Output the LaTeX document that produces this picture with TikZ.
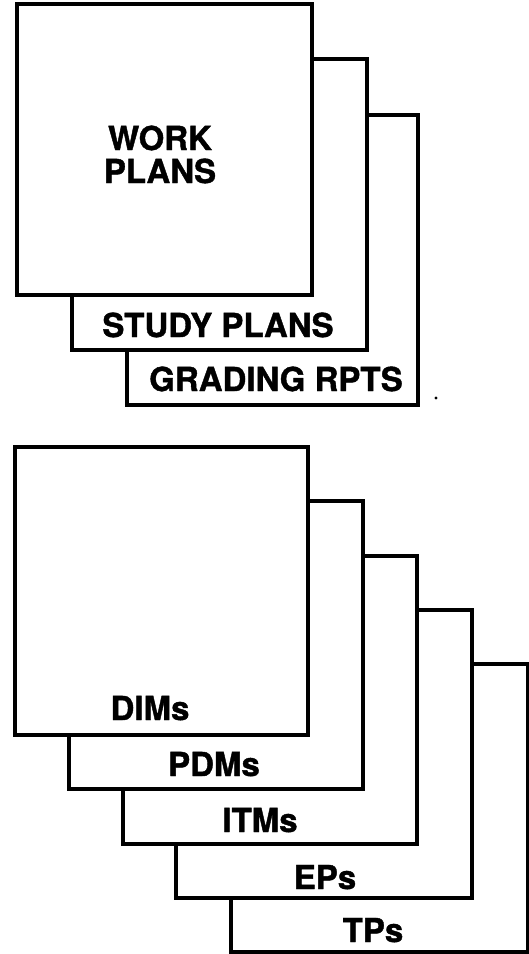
\documentclass[tikz,border=0pt]{standalone}
\usepackage{fontspec}
\setmainfont{TeX Gyre Heros}[BoldFeatures={FakeBold=1.2}]
\begin{document}
\begin{tikzpicture}[x=1pt,y=-1pt,
  sheet/.style={draw=black, fill=white, line width=3.2pt, rectangle,
    inner sep=0pt, outer sep=0pt},
  tag/.style={anchor=base, inner sep=0pt,
    font=\fontsize{33}{34}\selectfont\bfseries}]
\useasboundingbox[fill=white] (0,0) rectangle (529,954);

% upper stack, back to front
\node[sheet, minimum width=291pt, minimum height=290pt] (grading) at (272.5,260) {};
\node[sheet, minimum width=295pt, minimum height=291pt] (study) at (219.5,204.5) {};
\node[sheet, minimum width=295pt, minimum height=291pt] (work) at (164.5,149.5) {};

\node[tag] (workA) at (160,150) {WORK};
\node[tag] (workB) at (160,183) {PLANS};
\node[tag] (studyl) at (218,337) {STUDY PLANS};
\node[tag] (gradingl) at (276,391) {GRADING RPTS};

% stray speck beside the upper stack
\fill (436,398) circle (1.6pt);

% lower stack, back to front
\node[sheet, minimum width=297pt, minimum height=288pt] (tps) at (379.5,808) {};
\node[sheet, minimum width=296pt, minimum height=288pt] (eps) at (324,754) {};
\node[sheet, minimum width=294pt, minimum height=288pt] (itms) at (270,700) {};
\node[sheet, minimum width=294pt, minimum height=288pt] (pdms) at (216,645) {};
\node[sheet, minimum width=293pt, minimum height=288pt] (dims) at (161.5,591) {};

\node[tag] (dimsl) at (150,720) {DIMs};
\node[tag] (pdmsl) at (214,776) {PDMs};
\node[tag] (itmsl) at (260,832) {ITMs};
\node[tag] (epsl) at (325,889) {EPs};
\node[tag] (tpsl) at (373,942) {TPs};
\end{tikzpicture}
\end{document}
